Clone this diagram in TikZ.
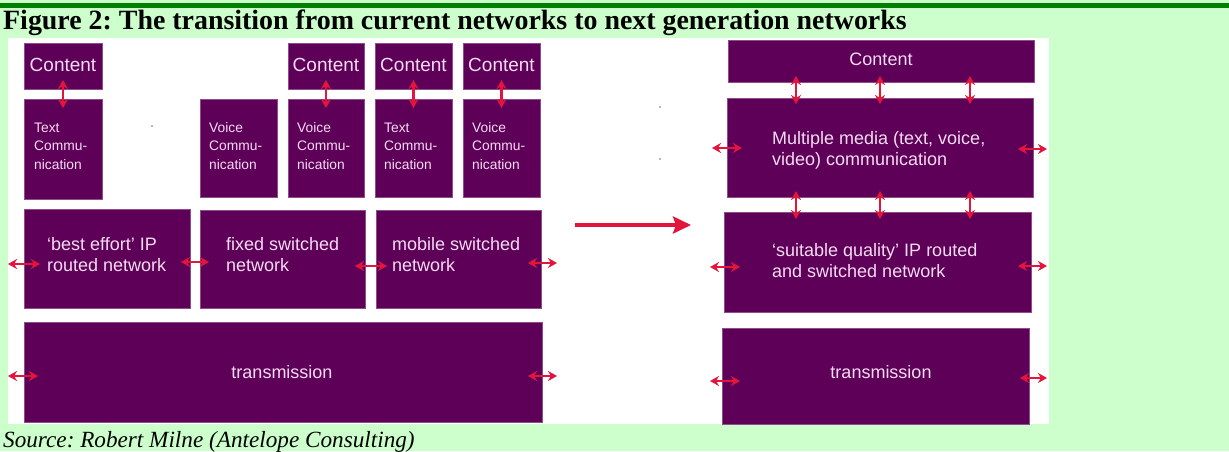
\documentclass[tikz,border=0pt]{standalone}
\usepackage{fontspec}
\setmainfont{Liberation Serif}
\newfontfamily\boxfont{Liberation Sans}
\usetikzlibrary{arrows.meta,calc}
\frenchspacing
\definecolor{bggreen}{HTML}{CCFFCC}
\definecolor{linegreen}{HTML}{008000}
\definecolor{boxpurple}{HTML}{5F0058}
\definecolor{boxtext}{HTML}{F4DCF2}
\definecolor{arrowred}{HTML}{E3153C}
\tikzset{
  box/.style={fill=boxpurple, draw=boxpurple!70!white, line width=0.6pt, inner sep=0pt, outer sep=0pt, anchor=north west},
  bigtxt/.style={font=\boxfont\fontsize{18}{21}\selectfont, text=boxtext, inner sep=0pt, align=left},
  conttxt/.style={font=\boxfont\fontsize{19}{22}\selectfont, text=boxtext, inner sep=0pt},
  smalltxt/.style={font=\boxfont\fontsize{13.8}{18.5}\selectfont, text=boxtext, inner sep=0pt, align=left, anchor=west},
  dbl/.style={draw=arrowred, line width=2.5pt, {Stealth[length=9pt,width=10pt]}-{Stealth[length=9pt,width=10pt]}},
  bigarrow/.style={draw=arrowred, line width=4pt, -{Stealth[length=18pt,width=17pt,inset=3pt]}}
}
\begin{document}
\begin{tikzpicture}[x=1pt,y=-1pt]
\useasboundingbox (0,0) rectangle (1229,451);
\fill[bggreen] (0,0) rectangle (1229,451);
\fill[linegreen] (0,3) rectangle (1229,7.5);
\fill[white] (7.5,38) rectangle (1049,424);

\node[anchor=base west, inner sep=0pt, font=\bfseries\fontsize{27.9}{32}\selectfont] (title) at (3,29) {Figure 2: The transition from current networks to next generation networks};
\node[anchor=base west, inner sep=0pt, font=\itshape\fontsize{23.2}{27}\selectfont] (src) at (3,447) {Source: Robert Milne (Antelope Consulting)};

% left side boxes
\node[box, minimum width=78pt, minimum height=46pt] (c1) at (24,43) {};
\node[box, minimum width=76pt, minimum height=46pt] (c2) at (288,43) {};
\node[box, minimum width=77pt, minimum height=46pt] (c3) at (375,43) {};
\node[box, minimum width=77pt, minimum height=46pt] (c4) at (463,43) {};
\node[box, minimum width=78pt, minimum height=100pt] (t1) at (24,99) {};
\node[box, minimum width=77pt, minimum height=98pt] (v0) at (200,99) {};
\node[box, minimum width=76pt, minimum height=98pt] (t2) at (288,99) {};
\node[box, minimum width=77pt, minimum height=98pt] (t3) at (375,99) {};
\node[box, minimum width=77pt, minimum height=98pt] (t4) at (463,99) {};
\node[box, minimum width=166pt, minimum height=99pt] (be) at (24,209) {};
\node[box, minimum width=165pt, minimum height=98pt] (fx) at (200,210) {};
\node[box, minimum width=165pt, minimum height=98pt] (mb) at (376,210) {};
\node[box, minimum width=518pt, minimum height=100pt] (tr) at (24,322) {};

% right side boxes
\node[box, minimum width=306pt, minimum height=42pt] (rc) at (728,40) {};
\node[box, minimum width=306pt, minimum height=99pt] (mm) at (727,98) {};
\node[box, minimum width=307pt, minimum height=100pt] (sq) at (724,212) {};
\node[box, minimum width=307pt, minimum height=96pt] (rt) at (722,328) {};

% texts
\foreach \b in {c1,c2,c3,c4}{\node[conttxt] (\b txt) at ($(\b.center)+(0,-1.5)$) {Content};}
\node[smalltxt] (t1txt) at (34,146) {Text\\Commu-\\nication};
\node[smalltxt] (v0txt) at (209,146) {Voice\\Commu-\\nication};
\node[smalltxt] (t2txt) at (297,146) {Voice\\Commu-\\nication};
\node[smalltxt] (t3txt) at (384,146) {Text\\Commu-\\nication};
\node[smalltxt] (t4txt) at (472,146) {Voice\\Commu-\\nication};
\node[bigtxt, anchor=west] (betxt) at (47,254.5) {‘best effort’ IP\\routed network};
\node[bigtxt, anchor=west] (fxtxt) at (226,254.5) {fixed switched\\network};
\node[bigtxt, anchor=west] (mbtxt) at (392,254.5) {mobile switched\\network};
\node[bigtxt] (trtxt) at (282,372) {transmission};
\node[bigtxt] (rctxt) at (881,59) {Content};
\node[bigtxt, anchor=west] (mmtxt) at (772,150.5) {Multiple media (text, voice,\\video) communication};
\node[bigtxt, anchor=west] (sqtxt) at (772,260.5) {‘suitable quality’ IP routed\\and switched network};
\node[bigtxt] (rttxt) at (881,372) {transmission};

% vertical arrows, left
\draw[dbl] ($(c1.south)+(0,-9)$) -- ($(t1.north)+(0,9)$);
\draw[dbl] ($(c2.south)+(0,-9)$) -- ($(t2.north)+(0,9)$);
\draw[dbl] ($(c3.south)+(0,-9)$) -- ($(t3.north)+(0,9)$);
\draw[dbl] ($(c4.south)+(0,-9)$) -- ($(t4.north)+(0,9)$);

% horizontal arrows, left
\coordinate (beL) at (8,264);
\coordinate (mbR) at (557,263);
\coordinate (trL) at (8,376);
\coordinate (trR) at (557,376);
\draw[dbl] (beL) -- ($(be.west)+(16,5.5)$);
\draw[dbl] ($(be.east)+(-9,3.5)$) -- ($(fx.west)+(9,3)$);
\draw[dbl] ($(fx.east)+(-10,7)$) -- ($(mb.west)+(11,7)$);
\draw[dbl] ($(mb.east)+(-13,4)$) -- (mbR);
\draw[dbl] (trL) -- ($(tr.west)+(14,4)$);
\draw[dbl] ($(tr.east)+(-14,4)$) -- (trR);

% big transition arrow
\coordinate (bigA) at (575,225);
\coordinate (bigB) at (691,225);
\draw[bigarrow] (bigA) -- (bigB);

% vertical arrows, right
\coordinate (x1) at (796,0);
\coordinate (x2) at (880,0);
\coordinate (x3) at (970,0);
\foreach \x in {x1,x2,x3}{
  \draw[dbl] ($(rc.south -| \x)+(0,-6)$) -- ($(mm.north -| \x)+(0,6)$);
  \draw[dbl] ($(mm.south -| \x)+(0,-6)$) -- ($(sq.north -| \x)+(0,7)$);
}

% horizontal arrows, right
\coordinate (mmL) at (712,148);
\coordinate (mmR) at (1047,149);
\coordinate (sqL) at (710,267);
\coordinate (sqR) at (1047,266);
\coordinate (rtL) at (710,381);
\coordinate (rtR) at (1047,378);
\draw[dbl] (mmL) -- ($(mm.west)+(15,0.5)$);
\draw[dbl] ($(mm.east)+(-15,1.5)$) -- (mmR);
\draw[dbl] (sqL) -- ($(sq.west)+(16,5)$);
\draw[dbl] ($(sq.east)+(-13,4)$) -- (sqR);
\draw[dbl] (rtL) -- ($(rt.west)+(18,5)$);
\draw[dbl] ($(rt.east)+(-9,2)$) -- (rtR);

% stray specks
\fill[black!55] (152,126) circle (0.8);
\fill[black!55] (660,107) circle (0.8);
\fill[black!55] (660,159) circle (0.8);
\end{tikzpicture}
\end{document}
